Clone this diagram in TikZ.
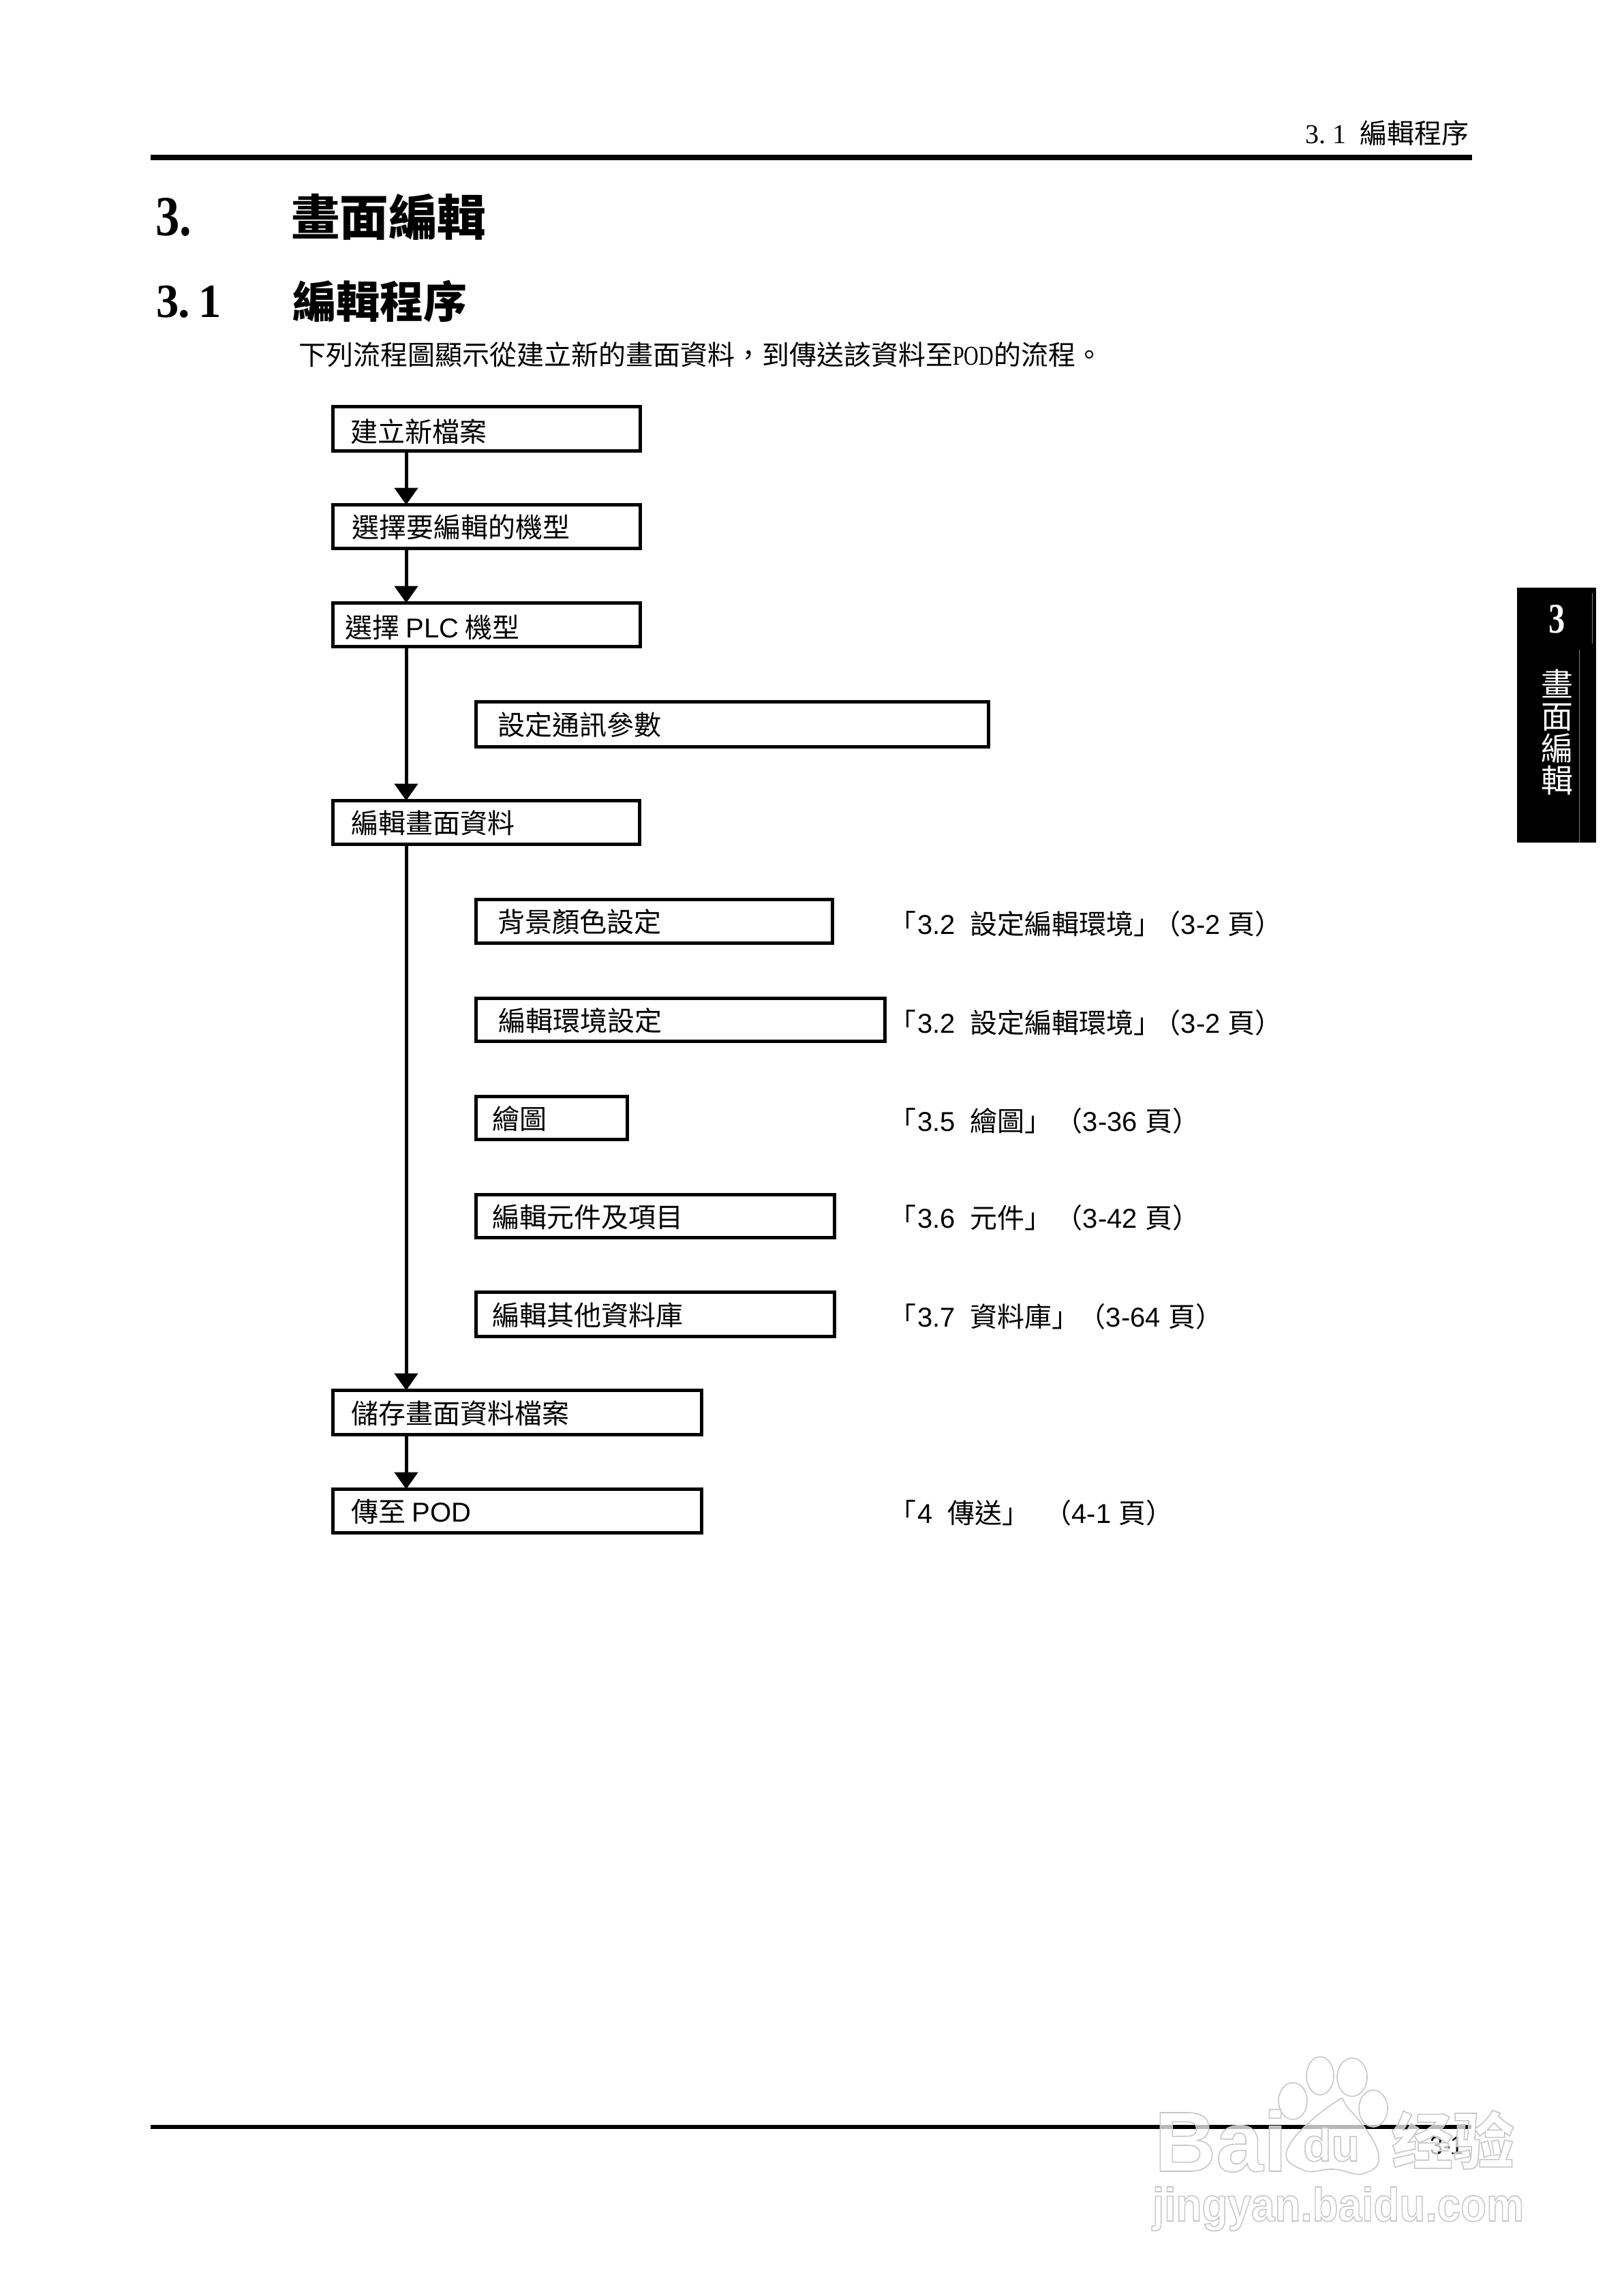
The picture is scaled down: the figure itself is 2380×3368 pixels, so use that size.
\documentclass[tikz,border=0pt]{standalone}
\usepackage{graphicx}
\usepackage{fontspec}
\usetikzlibrary{arrows.meta}
\setmainfont{Noto Sans CJK TC}
\newfontfamily\latfont{Liberation Sans}
\newfontfamily\srffont{Liberation Serif}
\newfontfamily\sccjk{Noto Sans CJK SC}
\newcommand{\lat}[1]{{\latfont #1}}
\newcommand{\hw}[2]{\makebox[#1pt][l]{#2}}
\newcommand{\outl}[1]{\special{pdf:code q 2 Tr 1.6 w 0.78 G 1 g}#1\special{pdf:code Q}}
\tikzset{
  x=1pt,y=-1pt,
  flow/.style={draw=black,line width=5pt,fill=white,outer sep=0pt,inner sep=0pt,align=left,
    text height=35pt,text depth=3pt,font=\fontsize{40}{48}\selectfont},
  flowarrow/.style={line width=5pt,draw=black,-{Triangle[width=34pt,length=25pt]}},
  txt/.style={inner sep=0pt,outer sep=0pt,anchor=base west,font=\fontsize{40}{48}\selectfont},
  rulebar/.style={draw=none,fill=black},
  wmline/.style={draw=black!22,line width=1.6pt,fill=white},
}
\newcommand{\flowbox}[7]{%
  \pgfmathsetmacro\bw{#4-#2-5}\pgfmathsetmacro\bh{#5-#3-5}\pgfmathsetmacro\bpad{#6-#2-2.5}%
  \node[flow,anchor=north west,minimum width=\bw pt,minimum height=\bh pt,text width=\bw pt] (#1) at (#2+2.5,#3+2.5) {\hspace*{\bpad pt}{\spaceskip=9.5pt\relax #7}};%
}
\begin{document}
\begin{tikzpicture}
\useasboundingbox (0,0) rectangle (2380,3368);
\fill[white] (0,0) rectangle (2380,3368);
% header
\fill[rulebar] (221,226.5) rectangle (2160,235);
\node[txt] (headnum) at (1915,210) {\srffont\hw{20}{3}\hw{20}{.}\hw{20}{1}\hw{20}{}};
\node[txt] (headtxt) at (1995,210.5) {編輯程序};
% titles
\node[txt] (titlenum) at (228,345) {\fontsize{83}{90}\selectfont\srffont\bfseries\scalebox{.85}[1]{3.}};
\node[txt] (titletxt) at (427,345) {\fontsize{71.5}{80}\selectfont\bfseries 畫面編輯};
\node[txt] (secnum) at (229,465) {\fontsize{70}{80}\selectfont\srffont\bfseries\hw{32}{\scalebox{.95}[1]{3}}\hw{30}{.}\scalebox{.95}[1]{1}};
\node[txt] (sectxt) at (429,466) {\fontsize{64}{72}\selectfont\bfseries 編輯程序};
\node[txt] (intro) at (438,535) {下列流程圖顯示從建立新的畫面資料，到傳送該資料至{\srffont\scalebox{.75}[1]{POD}}的流程。};
% flow boxes
\coordinate (spine) at (596,0);
\flowbox{newfile}{486}{594}{942}{664}{514.5}{\raisebox{-3pt}{建立新檔案}}
\flowbox{model}{486}{738}{942}{807}{516}{選擇要編輯的機型}
\flowbox{plc}{486}{882}{942}{951}{506}{\raisebox{-3pt}{選擇 \lat{PLC} 機型}}
\flowbox{comm}{695.5}{1026.5}{1453}{1098}{730}{設定通訊參數}
\flowbox{edit}{486}{1172}{941}{1241}{515}{編輯畫面資料}
\flowbox{bg}{695.5}{1317}{1224}{1386}{730}{背景顏色設定}
\flowbox{env}{695.5}{1462}{1301}{1530}{731}{編輯環境設定}
\flowbox{drawing}{695.5}{1606}{923}{1674}{722}{繪圖}
\flowbox{parts}{695.5}{1750}{1226.5}{1818}{722}{編輯元件及項目}
\flowbox{lib}{695.5}{1893}{1226.5}{1963}{722}{編輯其他資料庫}
\flowbox{save}{486}{2037}{1032}{2107}{515}{儲存畫面資料檔案}
\flowbox{pod}{486}{2182}{1032}{2251}{515}{傳至 \lat{POD}}
% connectors
\draw[flowarrow] (newfile.south -| spine) -- (model.north -| spine);
\draw[flowarrow] (model.south -| spine) -- (plc.north -| spine);
\draw[flowarrow] (plc.south -| spine) -- (edit.north -| spine);
\draw[flowarrow] (edit.south -| spine) -- (save.north -| spine);
\draw[flowarrow] (save.south -| spine) -- (pod.north -| spine);
% references
\node[txt] (ref1) at (1304,1370) {「\kern2pt\lat{3.2\ \ }設定編輯環境」\kern-11pt（\lat{3-2 }頁）};
\node[txt] (ref2) at (1304,1515) {「\kern2pt\lat{3.2\ \ }設定編輯環境」\kern-11pt（\lat{3-2 }頁）};
\node[txt] (ref3) at (1304,1659) {「\kern2pt\lat{3.5\ \ }繪圖」\kern5pt（\lat{3-36 }頁）};
\node[txt] (ref4) at (1304,1801) {「\kern2pt\lat{3.6\ \ }元件」\kern5pt（\lat{3-42 }頁）};
\node[txt] (ref5) at (1304,1946) {「\kern2pt\lat{3.7\ \ }資料庫」\kern-1pt（\lat{3-64 }頁）};
\node[txt] (ref6) at (1304,2234) {「\kern2pt\lat{4\ \ }傳送」\kern22pt（\lat{4-1 }頁）};
% side tab
\fill[black] (2226,862) rectangle (2342,1236);
\draw[black!50,line width=1pt] (2336.4,870) -- (2336.4,944);
\draw[black!50,line width=1pt] (2317,953) -- (2317,1236);
\node[inner sep=0pt,text=white,font=\fontsize{62}{70}\selectfont\srffont\bfseries] (tabnum) at (2284.7,908) {\scalebox{.78}[1]{3}};
\node[inner sep=0pt,text=white,align=center,font=\fontsize{47}{47}\selectfont] (tabtxt) at (2285,1074) {畫\\面\\編\\輯};
% footer
\fill[rulebar] (221,3117) rectangle (2159,3123);
\node[txt,text=black] (pageno) at (2098,3160) {\fontsize{38}{44}\selectfont\latfont\scalebox{.9}[1]{3-1}};
% watermark
\begin{scope}[fill opacity=.72]
\foreach \px/\py/\rx/\ry in {1897/3082/21/27,1937/3045/20/28,1984/3047/22/28,2015/3093/21/27}
  \path[wmline] (\px,\py) ellipse [x radius=\rx,y radius=\ry];
\path[wmline] plot[smooth cycle,tension=.8] coordinates {(1957,3085) (1890,3150) (1912,3183) (1957,3182) (2002,3188) (2022,3157) (1979,3093)};
\node[txt] (wmbai) at (1694,3185) {\fontsize{125}{130}\selectfont\latfont\bfseries\outl{Bai}};
\node[txt] (wmdu) at (1912,3170) {\fontsize{68}{72}\selectfont\latfont\bfseries\outl{du}};
\node[txt] (wmjy) at (2042,3174) {\fontsize{90}{96}\selectfont\sccjk\bfseries\outl{经验}};
\node[txt] (wmurl) at (1691,3258) {\fontsize{69}{74}\selectfont\latfont\bfseries\outl{\scalebox{.9}[1]{jingyan.baidu.com}}};
\end{scope}
\end{tikzpicture}
\end{document}
